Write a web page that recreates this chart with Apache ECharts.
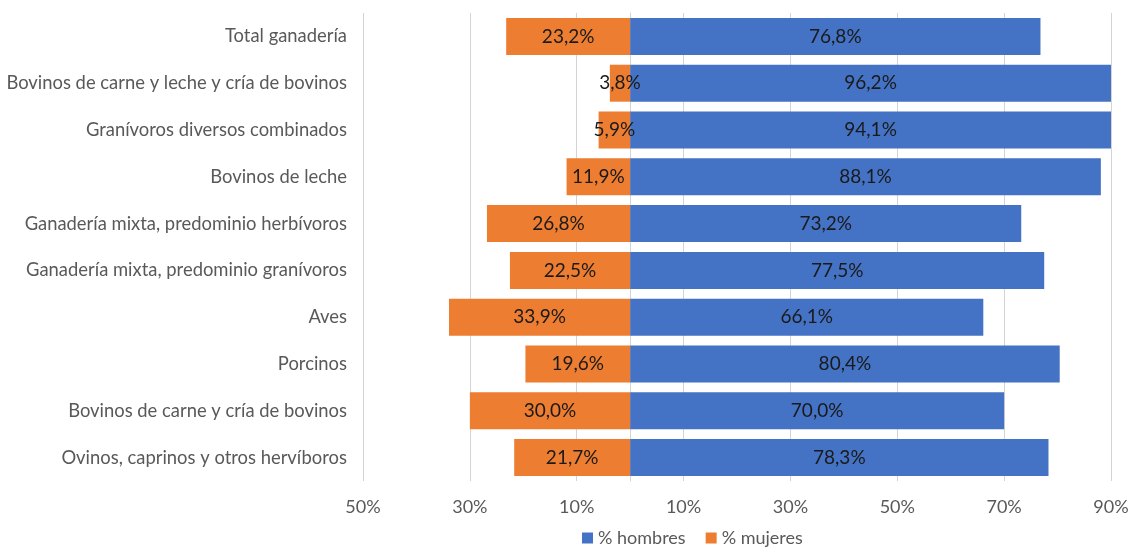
<!DOCTYPE html>
<html>
<head>
<meta charset="utf-8">
<script src="https://cdn.jsdelivr.net/npm/echarts@6/dist/echarts.min.js"></script>
<style>html,body{margin:0;padding:0;background:#fff;}#c{width:1129px;height:549px;}</style>
</head>
<body>
<div id="c"></div>
<script>
const categories = [
  'Total ganadería',
  'Bovinos de carne y leche y cría de bovinos',
  'Granívoros diversos combinados',
  'Bovinos de leche',
  'Ganadería mixta, predominio herbívoros',
  'Ganadería mixta, predominio granívoros',
  'Aves',
  'Porcinos',
  'Bovinos de carne y cría de bovinos',
  'Ovinos, caprinos y otros hervíboros'
];
const hombres = [76.8, 96.2, 94.1, 88.1, 73.2, 77.5, 66.1, 80.4, 70.0, 78.3];
const mujeres = [23.2, 3.8, 5.9, 11.9, 26.8, 22.5, 33.9, 19.6, 30.0, 21.7];
const seriesNames = ['% hombres', '% mujeres'];

const FONT = 'Lato';
const fmtLabel = p => Math.abs(p.value).toFixed(1).replace('.', ',') + '%';
const chart = echarts.init(document.getElementById('c'));
chart.setOption({
  animation: false,
  textStyle: { fontFamily: FONT },
  grid: { left: 363, right: 18, top: 13, bottom: 68, containLabel: false, outerBoundsMode: 'none' },
  legend: {
    data: seriesNames,
    left: 582, top: 529,
    padding: 0,
    itemWidth: 11, itemHeight: 11, itemGap: 20,
    icon: 'rect',
    textStyle: { fontFamily: FONT, fontSize: 18, color: '#595959' }
  },
  xAxis: {
    type: 'value', min: -50, max: 90, interval: 20,
    axisLine: { show: false }, axisTick: { show: false },
    splitLine: { lineStyle: { color: '#d4d4d4', width: 1 } },
    axisLabel: { formatter: v => Math.abs(v) + '%', fontFamily: FONT, fontSize: 18, color: '#595959', margin: 17 }
  },
  yAxis: {
    type: 'category', data: categories, inverse: true,
    axisLine: { show: true, lineStyle: { color: '#d4d4d4', width: 1 } },
    axisTick: { show: false },
    axisLabel: { fontFamily: FONT, fontSize: 18.4, color: '#595959', margin: 16 }
  },
  series: [
    {
      name: seriesNames[0], type: 'bar', data: hombres,
      barCategoryGap: '21%', barGap: '-100%', clip: true,
      itemStyle: { color: '#4472C4' },
      label: { show: true, position: 'inside', formatter: fmtLabel, fontFamily: FONT, fontSize: 19, color: '#1a1a1a' },
      z: 3
    },
    {
      name: seriesNames[1], type: 'bar', data: mujeres.map(v => -v),
      barCategoryGap: '21%', barGap: '-100%', clip: true,
      itemStyle: { color: '#ED7D31' },
      label: { show: true, position: 'inside', formatter: fmtLabel, fontFamily: FONT, fontSize: 19, color: '#1a1a1a' },
      z: 3
    }
  ]
});
</script>
</body>
</html>
